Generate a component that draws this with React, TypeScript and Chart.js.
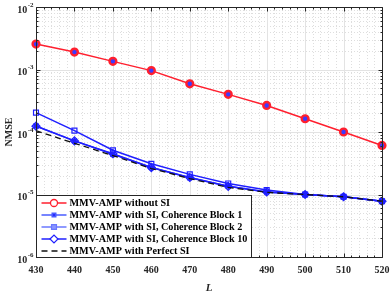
import React, { useEffect, useRef } from "react";
import { Chart, registerables } from "chart.js";
import { drawPoint } from "chart.js/helpers";

Chart.register(...registerables);

const L_VALUES = [430, 440, 450, 460, 470, 480, 490, 500, 510, 520];
const NMSE_NO_SI = [2.55e-3, 1.9e-3, 1.35e-3, 9.6e-4, 5.9e-4, 4.0e-4, 2.66e-4, 1.63e-4, 1.0e-4, 6.1e-5];
const NMSE_CB1 = [1.25e-4, 7.2e-5, 4.4e-5, 2.7e-5, 1.85e-5, 1.35e-5, 1.1e-5, 1.0e-5, 9.2e-6, 7.8e-6];
const NMSE_CB2 = [2.04e-4, 1.05e-4, 5.1e-5, 3.1e-5, 2.1e-5, 1.5e-5, 1.18e-5, 1.0e-5, 9.2e-6, 7.8e-6];
const NMSE_CB10 = [1.24e-4, 7.2e-5, 4.5e-5, 2.7e-5, 1.87e-5, 1.35e-5, 1.1e-5, 1.0e-5, 9.2e-6, 7.8e-6];
const NMSE_PERFECT = [1.05e-4, 6.6e-5, 4.2e-5, 2.6e-5, 1.8e-5, 1.3e-5, 1.08e-5, 1.0e-5, 9.2e-6, 7.8e-6];

const SERIES_LABELS = [
  "MMV-AMP without SI",
  "MMV-AMP with SI, Coherence Block 1",
  "MMV-AMP with SI, Coherence Block 2",
  "MMV-AMP with SI, Coherence Block 10",
  "MMV-AMP with Perfect SI",
];
const X_TICKS = [430, 440, 450, 460, 470, 480, 490, 500, 510, 520];
const X_MINOR_TICKS = [432, 434, 436, 438, 442, 444, 446, 448, 452, 454, 456, 458, 462, 464, 466, 468, 472, 474, 476, 478, 482, 484, 486, 488, 492, 494, 496, 498, 502, 504, 506, 508, 512, 514, 516, 518];
const Y_EXPONENTS = [-6, -5, -4, -3, -2];
const Y_MANTISSAS = [2, 3, 4, 5, 6, 7, 8, 9];
const X_TITLE = "L";
const Y_TITLE = "NMSE";

const FONT = "'Liberation Serif', 'Times New Roman', serif";

function toData(vals: number[]) {
  return L_VALUES.map((x, i) => ({ x, y: vals[i] }));
}

const decorPlugin = {
  id: "decor",
  beforeDatasetsDraw(chart: any) {
    const { ctx, chartArea, scales } = chart;
    const { left, right, top, bottom } = chartArea;
    const xs = scales.x;
    const ys = scales.y;
    ctx.save();
    ctx.fillStyle = "#ffffff";
    ctx.fillRect(left, top, right - left, bottom - top);
    ctx.strokeStyle = "#d6d6d6";
    ctx.lineWidth = 0.8;
    ctx.setLineDash([1, 2]);
    ctx.beginPath();
    X_MINOR_TICKS.forEach((v) => {
      const px = Math.round(xs.getPixelForValue(v)) + 0.5;
      ctx.moveTo(px, top);
      ctx.lineTo(px, bottom);
    });
    Y_EXPONENTS.slice(0, -1).forEach((e) => {
      Y_MANTISSAS.forEach((m) => {
        const py = Math.round(ys.getPixelForValue(m * Math.pow(10, e))) + 0.5;
        ctx.moveTo(left, py);
        ctx.lineTo(right, py);
      });
    });
    ctx.stroke();
    ctx.setLineDash([]);
    ctx.strokeStyle = "#e3e3e3";
    ctx.lineWidth = 1;
    ctx.beginPath();
    X_TICKS.forEach((v) => {
      const px = Math.round(xs.getPixelForValue(v)) + 0.5;
      ctx.moveTo(px, top);
      ctx.lineTo(px, bottom);
    });
    Y_EXPONENTS.forEach((e) => {
      const py = Math.round(ys.getPixelForValue(Math.pow(10, e))) + 0.5;
      ctx.moveTo(left, py);
      ctx.lineTo(right, py);
    });
    ctx.stroke();
    ctx.restore();
  },
  afterDatasetsDraw(chart: any) {
    const { ctx, chartArea, scales } = chart;
    const { left, right, top, bottom } = chartArea;
    const xs = scales.x;
    const ys = scales.y;
    ctx.save();
    ctx.strokeStyle = "#262626";
    ctx.lineWidth = 1;
    ctx.setLineDash([]);
    const L = Math.round(left) + 0.5;
    const R = Math.round(right) + 0.5;
    const T = Math.round(top) + 0.5;
    const B = Math.round(bottom) + 0.5;
    ctx.beginPath();
    ctx.rect(L, T, R - L, B - T);
    X_TICKS.forEach((v) => {
      const px = Math.round(xs.getPixelForValue(v)) + 0.5;
      ctx.moveTo(px, B); ctx.lineTo(px, B - 4);
      ctx.moveTo(px, T); ctx.lineTo(px, T + 4);
    });
    X_MINOR_TICKS.forEach((v) => {
      const px = Math.round(xs.getPixelForValue(v)) + 0.5;
      ctx.moveTo(px, B); ctx.lineTo(px, B - 2);
      ctx.moveTo(px, T); ctx.lineTo(px, T + 2);
    });
    Y_EXPONENTS.forEach((e) => {
      const py = Math.round(ys.getPixelForValue(Math.pow(10, e))) + 0.5;
      ctx.moveTo(L, py); ctx.lineTo(L + 4, py);
      ctx.moveTo(R, py); ctx.lineTo(R - 4, py);
      if (e < Y_EXPONENTS[Y_EXPONENTS.length - 1]) {
        Y_MANTISSAS.forEach((m) => {
          const pm = Math.round(ys.getPixelForValue(m * Math.pow(10, e))) + 0.5;
          ctx.moveTo(L, pm); ctx.lineTo(L + 2, pm);
          ctx.moveTo(R, pm); ctx.lineTo(R - 2, pm);
        });
      }
    });
    ctx.stroke();

    // legend
    const lw = 215;
    const lh = 62;
    const lx = L;
    const ly = B - lh;
    ctx.fillStyle = "#ffffff";
    ctx.fillRect(lx, ly, lw, lh);
    ctx.strokeStyle = "#262626";
    ctx.strokeRect(lx, ly, lw, lh);
    ctx.font = `bold 10.2px ${FONT}`;
    ctx.textBaseline = "middle";
    ctx.textAlign = "left";
    chart.data.datasets.forEach((ds: any, i: number) => {
      const cy = ly + 7.5 + i * 12;
      const lineColor = ds.legendColor || ds.borderColor;
      ctx.save();
      ctx.strokeStyle = lineColor;
      ctx.lineWidth = ds.borderWidth;
      ctx.setLineDash(ds.borderDash || []);
      ctx.beginPath();
      ctx.moveTo(lx + 5, cy);
      ctx.lineTo(lx + 30, cy);
      ctx.stroke();
      ctx.restore();
      if (ds.pointStyle && ds.pointRadius > 0) {
        ctx.save();
        ctx.strokeStyle = ds.legendColor || ds.pointBorderColor;
        ctx.fillStyle = ds.legendFill || ds.pointBackgroundColor;
        ctx.lineWidth = ds.legendPointWidth || ds.pointBorderWidth;
        ctx.setLineDash([]);
        drawPoint(ctx, { pointStyle: ds.legendPointStyle || ds.pointStyle, radius: ds.legendRadius || ds.pointRadius, rotation: 0, borderWidth: ctx.lineWidth } as any, lx + 17.5, cy);
        ctx.restore();
      }
      ctx.fillStyle = "#000000";
      ctx.fillText(ds.label, lx + 33, cy + 0.5);
    });

    ctx.restore();
  },
  afterDraw(chart: any) {
    const { ctx, chartArea, scales } = chart;
    const { left, top, bottom } = chartArea;
    const xs = scales.x;
    const ys = scales.y;
    ctx.save();
    ctx.fillStyle = "#262626";
    ctx.textBaseline = "middle";
    ctx.font = `bold 10px ${FONT}`;
    ctx.textAlign = "center";
    X_TICKS.forEach((v) => {
      ctx.fillText(String(v), xs.getPixelForValue(v), bottom + 13);
    });
    ctx.font = `italic bold 11px ${FONT}`;
    ctx.fillText(X_TITLE, (chartArea.left + chartArea.right) / 2, bottom + 31);
    Y_EXPONENTS.forEach((e) => {
      const py = ys.getPixelForValue(Math.pow(10, e));
      const sup = String(e);
      ctx.font = `bold 7px ${FONT}`;
      const supW = ctx.measureText(sup).width;
      const baseX = left - 3 - supW;
      ctx.textAlign = "left";
      ctx.fillText(sup, baseX + 0.5, py - 2);
      ctx.font = `bold 10px ${FONT}`;
      ctx.textAlign = "right";
      ctx.fillText("10", baseX, py + 3);
    });
    ctx.translate(9, (top + bottom) / 2);
    ctx.rotate(-Math.PI / 2);
    ctx.textAlign = "center";
    ctx.font = `bold 10px ${FONT}`;
    ctx.fillText(Y_TITLE, 0, 0);
    ctx.restore();
  },
};

export default function App() {
  const canvasRef = useRef<HTMLCanvasElement | null>(null);
  useEffect(() => {
    if (!canvasRef.current) return;
    const RED = "#ff1f2e";
    const BLUE = "#1f1fff";
    const chart = new Chart(canvasRef.current, {
      type: "line",
      data: {
        datasets: [
          {
            label: SERIES_LABELS[0],
            data: toData(NMSE_NO_SI),
            borderColor: RED,
            borderWidth: 1.5,
            pointStyle: "circle",
            pointRadius: 3.4,
            pointBorderColor: RED,
            pointBackgroundColor: "#3a3aff",
            pointBorderWidth: 2.4,
            legendFill: "#ffffff",
            legendPointWidth: 1.3,
            legendRadius: 3.5,
            order: 4,
            clip: false,
          } as any,
          {
            label: SERIES_LABELS[1],
            data: toData(NMSE_CB1),
            borderColor: BLUE,
            borderWidth: 1.5,
            pointStyle: "star",
            pointRadius: 3.5,
            pointBorderColor: BLUE,
            pointBackgroundColor: BLUE,
            pointBorderWidth: 1.5,
            legendColor: "#4a5cff",
            legendPointStyle: "rect",
            legendFill: "#2a2aff",
            legendRadius: 2.5,
            order: 3,
            clip: false,
          } as any,
          {
            label: SERIES_LABELS[2],
            data: toData(NMSE_CB2),
            borderColor: BLUE,
            borderWidth: 1.5,
            pointStyle: "rect",
            pointRadius: 3.5,
            pointBorderColor: BLUE,
            pointBackgroundColor: "rgba(255,255,255,0)",
            pointBorderWidth: 1.2,
            legendColor: "#6a78ff",
            legendFill: "#8a96ff",
            order: 2,
            clip: false,
          } as any,
          {
            label: SERIES_LABELS[3],
            data: toData(NMSE_CB10),
            borderColor: BLUE,
            borderWidth: 1.5,
            pointStyle: "rectRot",
            pointRadius: 4,
            pointBorderColor: BLUE,
            pointBackgroundColor: "rgba(255,255,255,0)",
            pointBorderWidth: 1.2,
            legendFill: "#ffffff",
            order: 1,
            clip: false,
          } as any,
          {
            label: SERIES_LABELS[4],
            data: toData(NMSE_PERFECT),
            borderColor: "#111111",
            borderWidth: 1.3,
            borderDash: [6, 4],
            pointStyle: false as any,
            pointRadius: 0,
            order: 0,
            clip: false,
          } as any,
        ],
      },
      options: {
        animation: false,
        responsive: false,
        maintainAspectRatio: false,
        layout: { padding: { left: 36, right: 8, top: 7, bottom: 36 } },
        plugins: { legend: { display: false }, tooltip: { enabled: false } },
        scales: {
          x: { type: "linear", min: 430, max: 520, display: false },
          y: { type: "logarithmic", min: 1e-6, max: 1e-2, display: false },
        },
        elements: { line: { tension: 0 } },
      },
      plugins: [decorPlugin],
    });
    return () => chart.destroy();
  }, []);
  return (
    <div style={{ position: "fixed", left: 0, top: 0, width: 390, height: 293, background: "#fff" }}>
      <canvas ref={canvasRef} width={390} height={293} style={{ width: 390, height: 293 }} />
    </div>
  );
}
